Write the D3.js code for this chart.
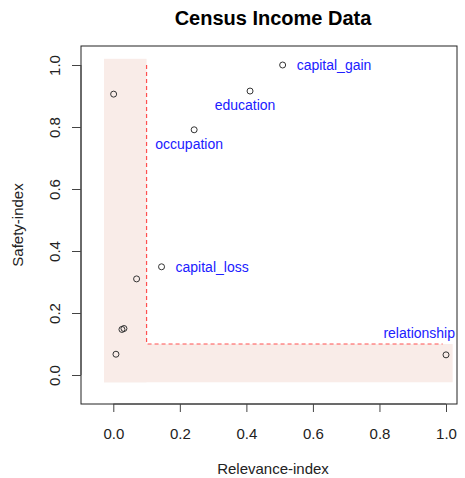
<!DOCTYPE html>
<html>
<head>
<meta charset="utf-8">
<script src="https://cdn.jsdelivr.net/npm/d3@7"></script>
<style>
  html, body { margin: 0; padding: 0; background: #fff; }
  svg { display: block; font-family: "Liberation Sans", Arial, sans-serif; }
</style>
</head>
<body>
<svg id="chart" width="465" height="478"></svg>
<script>
// Census income variables: relevance vs safety
const relevance = [0.509, 0.411, 0.243, 0.145, 0.070, 0.026, 0.032, 0.008, 1.000, 0.001];
const safety    = [1.000, 0.916, 0.791, 0.349, 0.310, 0.147, 0.150, 0.067, 0.065, 0.906];
const names     = ["capital_gain", "education", "occupation", "capital_loss", "", "", "", "", "relationship", ""];
// label placement: r = right of point, b = below, t = above (right-aligned)
const placement = ["r", "b", "b", "r", "", "", "", "", "t", ""];

const xTicks = [0, 0.2, 0.4, 0.6, 0.8, 1.0];
const yTicks = [0, 0.2, 0.4, 0.6, 0.8, 1.0];

// thresholds of the low-relevance / low-safety zone
const relevanceCut = 0.1;
const safetyCut = 0.1;
const zoneMin = -0.028;
const zoneMax = 1.02;

const svg = d3.select("#chart");
const box = { left: 81, right: 457, top: 46, bottom: 404 };

const x = d3.scaleLinear().domain([0, 1]).range([113.3, 446]);
const y = d3.scaleLinear().domain([0, 1]).range([375, 65]);

// shaded L-shaped zone
const zoneFill = "#f9ece8";
svg.append("rect")
  .attr("x", x(zoneMin)).attr("y", y(zoneMax))
  .attr("width", x(relevanceCut) - x(zoneMin))
  .attr("height", y(-0.0235) - y(zoneMax))
  .attr("fill", zoneFill);
svg.append("rect")
  .attr("x", x(zoneMin)).attr("y", y(safetyCut))
  .attr("width", x(zoneMax) - x(zoneMin))
  .attr("height", y(-0.0235) - y(safetyCut))
  .attr("fill", zoneFill);

// dashed boundary
svg.append("path")
  .attr("d", d3.line()([
    [x(relevanceCut), y(1.0)],
    [x(relevanceCut), y(safetyCut)],
    [x(0.99), y(safetyCut)]
  ]))
  .attr("fill", "none")
  .attr("stroke", "#ff5050")
  .attr("stroke-width", 1.2)
  .attr("stroke-dasharray", "4,3");

// plot frame
svg.append("rect")
  .attr("x", box.left).attr("y", box.top)
  .attr("width", box.right - box.left).attr("height", box.bottom - box.top)
  .attr("fill", "none").attr("stroke", "#222").attr("stroke-width", 1);

// axes
const xAxis = svg.append("g")
  .attr("transform", `translate(0,${box.bottom})`)
  .call(d3.axisBottom(x).tickValues(xTicks).tickFormat(d3.format(".1f")).tickSize(8).tickPadding(14));
xAxis.select(".domain").attr("d", `M${x(0)},0H${x(1)}`).attr("stroke", "#444");
xAxis.selectAll(".tick line").attr("stroke", "#444");
xAxis.selectAll(".tick text").attr("font-size", 15).attr("fill", "#222")
  .attr("font-family", "Liberation Sans, Arial, sans-serif")
  .attr("dy", null).attr("y", 29).attr("dominant-baseline", "central");

const yAxis = svg.append("g")
  .attr("transform", `translate(${box.left},0)`)
  .call(d3.axisLeft(y).tickValues(yTicks).tickFormat(d3.format(".1f")).tickSize(9).tickPadding(0));
yAxis.select(".domain").attr("d", `M0,${y(0)}V${y(1)}`).attr("stroke", "#444");
yAxis.selectAll(".tick line").attr("stroke", "#444");
yAxis.selectAll(".tick text")
  .attr("font-size", 15).attr("fill", "#222")
  .attr("font-family", "Liberation Sans, Arial, sans-serif")
  .attr("text-anchor", "middle")
  .attr("dy", null)
  .attr("x", null)
  .attr("transform", "translate(-27,0) rotate(-90)")
  .attr("dominant-baseline", "central");

// points
svg.append("g").selectAll("circle")
  .data(relevance.map((r, i) => ({ r, s: safety[i] })))
  .join("circle")
  .attr("cx", d => x(d.r)).attr("cy", d => y(d.s))
  .attr("r", 3)
  .attr("fill", "none").attr("stroke", "#333").attr("stroke-width", 1);

// variable labels
const labelled = relevance.map((r, i) => ({ r, s: safety[i], name: names[i], pos: placement[i] }))
  .filter(d => d.name);
svg.append("g").selectAll("text")
  .data(labelled)
  .join("text")
  .attr("x", d => x(d.r) + (d.pos === "r" ? 14 : d.pos === "t" ? 9 : -5))
  .attr("y", d => y(d.s) + (d.pos === "b" ? 14 : d.pos === "t" ? -22 : 0))
  .attr("text-anchor", d => d.pos === "r" ? "start" : d.pos === "t" ? "end" : "middle")
  .attr("dominant-baseline", "central")
  .attr("font-size", 14)
  .attr("fill", "#2020ff")
  .text(d => d.name);

// title and axis titles
svg.append("text")
  .attr("x", 273).attr("y", 18)
  .attr("text-anchor", "middle").attr("dominant-baseline", "central")
  .attr("font-size", 20).attr("font-weight", "bold").attr("fill", "#000")
  .text("Census Income Data");

svg.append("text")
  .attr("x", 273).attr("y", 468)
  .attr("text-anchor", "middle").attr("dominant-baseline", "central")
  .attr("font-size", 15).attr("fill", "#222")
  .text("Relevance-index");

svg.append("text")
  .attr("transform", `translate(17,${(box.top + box.bottom) / 2}) rotate(-90)`)
  .attr("text-anchor", "middle").attr("dominant-baseline", "central")
  .attr("font-size", 15).attr("fill", "#222")
  .text("Safety-index");
</script>
</body>
</html>
